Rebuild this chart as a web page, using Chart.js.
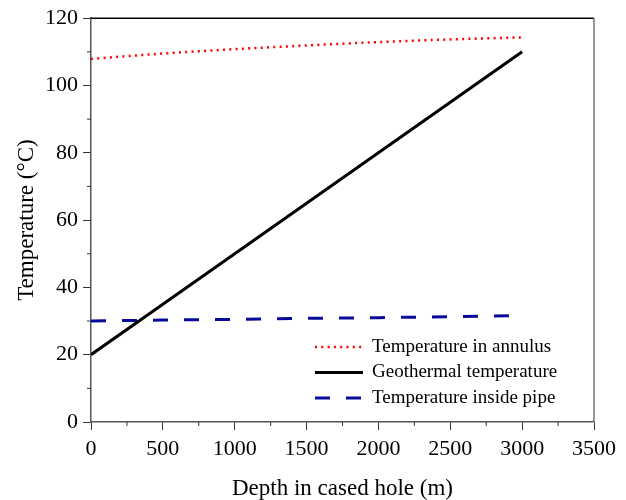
<!DOCTYPE html>
<html lang="en">
<head>
    <meta charset="UTF-8">
    <title>Temperature vs depth</title>
    <script src="https://cdn.jsdelivr.net/npm/chart.js"></script>
    <style>
        html, body { margin: 0; padding: 0; background: #fff; }
        #wrap { width: 626px; height: 500px; }
    </style>
</head>
<body>
    <div id="wrap"><canvas id="tempChart" width="626" height="500"></canvas></div>

    <script>
        // depth values (m)
        const depths = [0, 500, 1000, 1500, 2000, 2500, 3000];
        // temperatures (°C)
        const annulusTemp = [107.9, 109.5, 110.8, 111.9, 112.9, 113.7, 114.3];
        const geoTemp = [20, 35, 50, 65, 80, 95, 110];
        const pipeTemp = [30.0, 30.3, 30.5, 30.8, 31.0, 31.3, 31.6];
        const seriesNames = ['Temperature in annulus', 'Geothermal temperature', 'Temperature inside pipe'];

        const serif = "'Liberation Serif', 'Times New Roman', serif";

        function toPoints(ys) {
            return depths.map((d, i) => ({ x: d, y: ys[i] }));
        }

        // frame, minor ticks and the inside legend
        const extras = {
            id: 'extras',
            afterDraw(chart) {
                const { ctx, chartArea: a, scales } = chart;
                ctx.save();
                // top and right frame
                ctx.lineWidth = 1.5;
                ctx.strokeStyle = '#000';
                ctx.beginPath();
                ctx.moveTo(a.left, a.top);
                ctx.lineTo(a.right, a.top);
                ctx.stroke();
                ctx.strokeStyle = '#777';
                ctx.beginPath();
                ctx.moveTo(a.right, a.top);
                ctx.lineTo(a.right, a.bottom);
                ctx.stroke();

                // minor ticks
                ctx.lineWidth = 1;
                ctx.strokeStyle = '#333';
                for (let v = 250; v < 3500; v += 500) {
                    const px = scales.x.getPixelForValue(v);
                    ctx.beginPath();
                    ctx.moveTo(px, a.bottom);
                    ctx.lineTo(px, a.bottom + 4);
                    ctx.stroke();
                }
                for (let v = 10; v < 120; v += 20) {
                    const py = scales.y.getPixelForValue(v);
                    ctx.beginPath();
                    ctx.moveTo(a.left, py);
                    ctx.lineTo(a.left - 4, py);
                    ctx.stroke();
                }

                // legend
                const lx = 315, lw = 48, ly = 347, gap = 25.5;
                ctx.font = '19px ' + serif;
                ctx.textBaseline = 'middle';
                ctx.fillStyle = '#000';
                chart.data.datasets.forEach((ds, i) => {
                    const y = ly + i * gap;
                    ctx.strokeStyle = ds.borderColor;
                    ctx.lineWidth = ds.borderWidth;
                    ctx.setLineDash(ds.borderDash || []);
                    ctx.beginPath();
                    ctx.moveTo(lx, y);
                    ctx.lineTo(lx + lw, y);
                    ctx.stroke();
                    ctx.setLineDash([]);
                    ctx.fillText(ds.label, lx + lw + 9, y);
                });
                ctx.restore();
            }
        };

        const ctx = document.getElementById('tempChart').getContext('2d');
        new Chart(ctx, {
            type: 'line',
            data: {
                datasets: [
                    {
                        label: seriesNames[0],
                        data: toPoints(annulusTemp),
                        borderColor: '#ff0000',
                        borderWidth: 2.5,
                        borderDash: [2, 4.3],
                        cubicInterpolationMode: 'monotone'
                    },
                    {
                        label: seriesNames[1],
                        data: toPoints(geoTemp),
                        borderColor: '#000000',
                        borderWidth: 3
                    },
                    {
                        label: seriesNames[2],
                        data: toPoints(pipeTemp),
                        borderColor: '#0a0a9a',
                        borderWidth: 3,
                        borderDash: [15, 16]
                    }
                ]
            },
            options: {
                responsive: false,
                animation: false,
                layout: { padding: { top: 17, right: 32, left: 0, bottom: 0 } },
                elements: { point: { radius: 0 } },
                plugins: {
                    legend: { display: false },
                    tooltip: { enabled: false }
                },
                scales: {
                    x: {
                        type: 'linear',
                        min: 0,
                        max: 3500,
                        afterFit: (s) => { s.height = 78; },
                        border: { color: '#555', width: 1.5 },
                        grid: { drawOnChartArea: false, tickLength: 8, tickColor: '#333' },
                        ticks: {
                            stepSize: 500,
                            maxRotation: 0,
                            padding: 6,
                            color: '#000',
                            font: { family: serif, size: 22 },
                            callback: (v) => String(v)
                        },
                        title: {
                            display: true,
                            text: 'Depth in cased hole (m)',
                            color: '#000',
                            font: { family: serif, size: 23 },
                            padding: { top: 0, bottom: -3 }
                        }
                    },
                    y: {
                        min: 0,
                        max: 120,
                        afterFit: (s) => { s.width = 91; },
                        border: { color: '#555', width: 1.5 },
                        grid: { drawOnChartArea: false, tickLength: 8, tickColor: '#333' },
                        ticks: {
                            stepSize: 20,
                            padding: 5,
                            color: '#000',
                            font: { family: serif, size: 22 }
                        },
                        title: {
                            display: true,
                            text: 'Temperature (°C)',
                            color: '#000',
                            font: { family: serif, size: 23 },
                            padding: { top: 13, bottom: 0 }
                        }
                    }
                }
            },
            plugins: [extras]
        });
    </script>
</body>
</html>
